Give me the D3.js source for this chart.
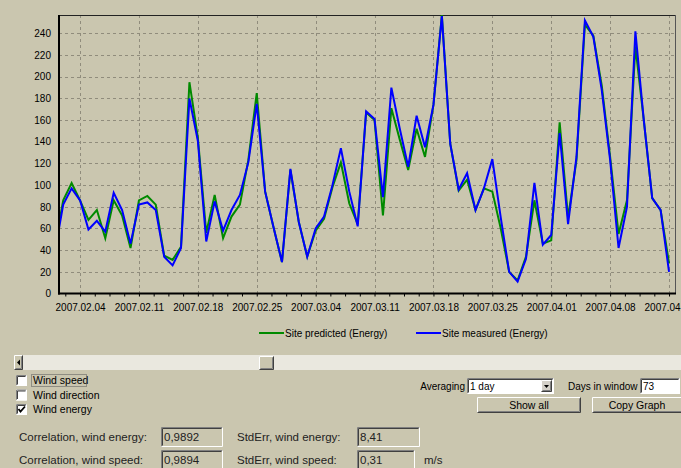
<!DOCTYPE html>
<html><head><meta charset="utf-8">
<script src="https://cdn.jsdelivr.net/npm/d3@7"></script>
<style>
html,body{margin:0;padding:0;background:#CAC6AF;}
svg{display:block;font-family:"Liberation Sans",Arial,sans-serif;}
</style></head>
<body>
<svg id="c" width="681" height="468"></svg>
<script>
// ---- data ----
const startDay = "2007-02-01";
const dayCount = 74;
const predicted = [43,86,102,86,68,77,51,86,72,42,86,90,82,35,31,43,195,144,56,91,51,71,82,123,185,94,61,29,114,66,34,58,69,98,121,83,64,167,160,72,171,142,114,152,126,174,257,138,95,105,77,97,94,60,20,12,34,86,46,49,158,70,123,248,238,192,126,55,86,228,160,88,77,28];
const measured  = [38,82,97,86,59,67,57,93,77,46,82,84,77,34,26,42,180,141,48,85,58,77,91,121,175,94,61,29,115,66,34,60,71,100,134,94,62,168,161,89,190,152,117,164,135,174,256,138,96,111,77,97,124,70,20,11,32,102,45,54,148,64,126,252,237,188,123,42,80,242,160,88,77,20];
const yTicks = [0,20,40,60,80,100,120,140,160,180,200,220,240];
const xTickLabels = ["2007.02.04","2007.02.11","2007.02.18","2007.02.25","2007.03.04","2007.03.11","2007.03.18","2007.03.25","2007.04.01","2007.04.08","2007.04.15"];
const seriesNames = ["Site predicted (Energy)","Site measured (Energy)"];
const seriesColors = ["#008a00","#0000ff"];
const checkboxes = [["Wind speed",false],["Wind direction",false],["Wind energy",true]];
const statLabels = [["Correlation, wind energy:","0,9892","StdErr, wind energy:","8,41"],["Correlation, wind speed:","0,9894","StdErr, wind speed:","0,31"]];

const parse = d3.utcParse("%Y-%m-%d");
const parseLbl = d3.utcParse("%Y.%m.%d");
const days = d3.utcDay.range(parse(startDay), d3.utcDay.offset(parse(startDay), dayCount));
const tickDates = xTickLabels.map(parseLbl);

const svg = d3.select("#c");
const bg = "#CAC6AF";
const L=59, T=15, R=675, B=293.5;

svg.append("rect").attr("width",681).attr("height",468).attr("fill",bg);

const x = d3.scaleUtc()
  .domain([d3.utcHour.offset(tickDates[0], -60), d3.utcHour.offset(tickDates[0], Math.round(70.71*24))])
  .range([L, R]);
const y = d3.scaleLinear().domain([0,257]).range([B, T]);

// grid
const grid = svg.append("g").attr("stroke","#908c7c").attr("stroke-width",1).attr("stroke-dasharray","3,3");
yTicks.filter(v=>v>0).forEach(v=>{
  const yy = Math.round(y(v))+0.5;
  grid.append("line").attr("x1",L).attr("x2",R).attr("y1",yy).attr("y2",yy);
});
tickDates.forEach(d=>{
  const xx = Math.round(x(d))+0.5;
  grid.append("line").attr("x1",xx).attr("x2",xx).attr("y1",T).attr("y2",B);
});

// frame
svg.append("line").attr("x1",L).attr("x2",R+1).attr("y1",T+0.5).attr("y2",T+0.5).attr("stroke","#222").attr("stroke-width",1);
svg.append("line").attr("x1",R+0.5).attr("x2",R+0.5).attr("y1",T).attr("y2",B).attr("stroke","#555").attr("stroke-width",1);

// lines
svg.append("clipPath").attr("id","clip").append("rect").attr("x",L).attr("y",T).attr("width",R-L).attr("height",B-T);
const line = d3.line().x((d,i)=>x(days[i])).y(d=>y(d));
[predicted, measured].forEach((s,k)=>{
  svg.append("path").datum(s).attr("clip-path","url(#clip)")
    .attr("fill","none").attr("stroke",seriesColors[k]).attr("stroke-width",2)
    .attr("stroke-linejoin","miter").attr("d",line);
});

// axes
const yAxis = d3.axisLeft(y).tickValues(yTicks).tickSize(0).tickPadding(8);
const ya = svg.append("g").attr("transform",`translate(${L},0)`).call(yAxis);
ya.select(".domain").remove();
ya.selectAll("text").attr("font-size",10).attr("fill","#000").attr("font-family","Liberation Sans, Arial, sans-serif");

const minor = d3.range(-1, 42).map(i=>d3.utcHour.offset(tickDates[0], i*42)).filter(d=>x(d)>=L && x(d)<=R);
const xAxisMinor = d3.axisBottom(x).tickValues(minor).tickSize(3).tickFormat("");
const xm = svg.append("g").attr("transform",`translate(0,${B})`).call(xAxisMinor);
xm.select(".domain").remove();
xm.selectAll("line").attr("stroke","#000");

const xAxis = d3.axisBottom(x).tickValues(tickDates).tickSize(0).tickPadding(10).tickFormat((d,i)=>xTickLabels[i]);
const xa = svg.append("g").attr("transform",`translate(0,${B})`).call(xAxis);
xa.select(".domain").remove();
xa.selectAll("text").attr("font-size",10).attr("fill","#000").attr("font-family","Liberation Sans, Arial, sans-serif");

svg.append("line").attr("x1",L).attr("x2",L).attr("y1",T).attr("y2",B+1).attr("stroke","#000").attr("stroke-width",2);
svg.append("line").attr("x1",L-1).attr("x2",R+1).attr("y1",B).attr("y2",B).attr("stroke","#000").attr("stroke-width",2);

// legend
const legX = [259, 416];
seriesNames.forEach((n,k)=>{
  svg.append("line").attr("x1",legX[k]).attr("x2",legX[k]+25).attr("y1",333).attr("y2",333)
    .attr("stroke",seriesColors[k]).attr("stroke-width",2);
  svg.append("text").attr("x",legX[k]+26).attr("y",337).attr("font-size",10).text(n);
});

// scrollbar
svg.append("rect").attr("x",14).attr("y",355).attr("width",667).attr("height",15).attr("fill","#EAE8DF");
function bevel(g,x0,y0,w,h,face){
  g.append("rect").attr("x",x0).attr("y",y0).attr("width",w).attr("height",h).attr("fill",face||"#D4D0C8");
  g.append("path").attr("d",`M${x0+0.5},${y0+h-0.5}V${y0+0.5}H${x0+w-0.5}`).attr("stroke","#fff").attr("fill","none");
  g.append("path").attr("d",`M${x0+0.5},${y0+h-0.5}H${x0+w-0.5}V${y0+0.5}`).attr("stroke","#404040").attr("fill","none");
  g.append("path").attr("d",`M${x0+1.5},${y0+h-1.5}H${x0+w-1.5}V${y0+1.5}`).attr("stroke","#808080").attr("fill","none");
}
function sunken(g,x0,y0,w,h,face){
  g.append("rect").attr("x",x0).attr("y",y0).attr("width",w).attr("height",h).attr("fill",face);
  g.append("path").attr("d",`M${x0+0.5},${y0+h-0.5}V${y0+0.5}H${x0+w-0.5}`).attr("stroke","#808080").attr("fill","none");
  g.append("path").attr("d",`M${x0+1.5},${y0+h-1.5}V${y0+1.5}H${x0+w-1.5}`).attr("stroke","#404040").attr("fill","none");
  g.append("path").attr("d",`M${x0+0.5},${y0+h-0.5}H${x0+w-0.5}V${y0+0.5}`).attr("stroke","#fff").attr("fill","none");
}
const ui = svg.append("g");
bevel(ui,14,355,9,15,bg);
ui.append("path").attr("d","M17,362.5 L20,359.5 L20,365.5 Z").attr("fill","#000");
bevel(ui,259,356,15,14,bg);

// checkboxes
const fnt = "Liberation Sans, Arial, sans-serif";
checkboxes.forEach((c,i)=>{
  const cy = 375 + i*14.5;
  sunken(ui,16,cy,11,11,"#fff");
  if(c[1]) ui.append("path").attr("d",`M18.5,${cy+5} L20.5,${cy+7.5} L25,${cy+2.5}`).attr("stroke","#000").attr("stroke-width",1.8).attr("fill","none");
  ui.append("text").attr("x",33).attr("y",cy+9).attr("font-size",10.5).attr("font-family",fnt).text(c[0]);
});
ui.append("rect").attr("x",31.5).attr("y",374.5).attr("width",55).attr("height",12).attr("fill","none").attr("stroke","#555").attr("stroke-dasharray","1,1");

// stats
statLabels.forEach((r,i)=>{
  const by = i===0 ? 441 : 464;
  const top = i===0 ? 427 : 450;
  ui.append("text").attr("x",19).attr("y",by).attr("font-size",11.5).attr("font-family",fnt).attr("fill","#222").text(r[0]);
  sunken(ui,161,top,62,20,bg);
  ui.append("text").attr("x",164).attr("y",by).attr("font-size",11.5).attr("font-family",fnt).attr("fill","#222").text(r[1]);
  ui.append("text").attr("x",237).attr("y",by).attr("font-size",11.5).attr("font-family",fnt).attr("fill","#222").text(r[2]);
  sunken(ui,357,top,i===0?63:58,20,bg);
  ui.append("text").attr("x",360).attr("y",by).attr("font-size",11.5).attr("font-family",fnt).attr("fill","#222").text(r[3]);
});
ui.append("text").attr("x",424).attr("y",464).attr("font-size",11.5).attr("font-family",fnt).attr("fill","#222").text("m/s");

// right controls
ui.append("text").attr("x",465).attr("y",390).attr("text-anchor","end").attr("font-size",10).attr("font-family",fnt).text("Averaging");
sunken(ui,467,378,87,16,"#fff");
ui.append("text").attr("x",470).attr("y",390).attr("font-size",10).attr("font-family",fnt).text("1 day");
bevel(ui,541,380,11,12,"#D4D0C8");
ui.append("path").attr("d","M544,385 L549,385 L546.5,388 Z").attr("fill","#000");
ui.append("text").attr("x",568).attr("y",390).attr("font-size",10).attr("font-family",fnt).text("Days in window");
sunken(ui,640,378,40,16,"#fff");
ui.append("text").attr("x",643).attr("y",390).attr("font-size",10).attr("font-family",fnt).text("73");
bevel(ui,477,397,104,16,bg);
ui.append("text").attr("x",529).attr("y",409).attr("text-anchor","middle").attr("font-size",10.5).attr("font-family",fnt).text("Show all");
bevel(ui,592,397,92,16,bg);
ui.append("text").attr("x",637).attr("y",409).attr("text-anchor","middle").attr("font-size",10.5).attr("font-family",fnt).text("Copy Graph");
</script>
</body></html>
